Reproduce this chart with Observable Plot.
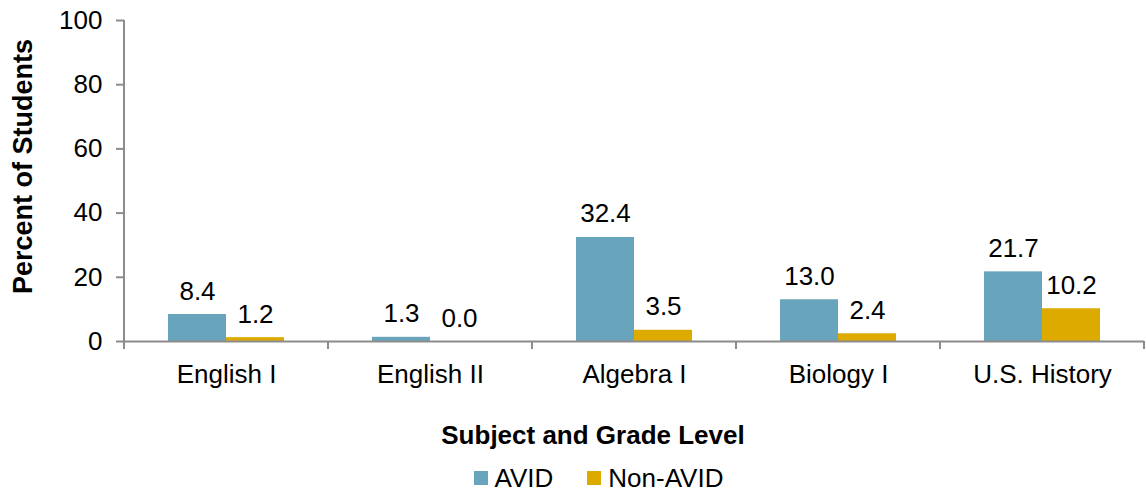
<!DOCTYPE html>
<html>
<head>
<meta charset="utf-8">
<script src="https://cdn.jsdelivr.net/npm/d3@7"></script>
<script src="https://cdn.jsdelivr.net/npm/@observablehq/plot@0.6"></script>
<style>
  html, body { margin: 0; padding: 0; background: #fff; }
  body { font-family: "Liberation Sans", Arial, sans-serif; color: #000; width: 1146px; overflow: hidden; }
  #chart svg { display: block; }
  #title { font-weight: bold; font-size: 26px; text-align: center; padding-left: 40px; margin-top: 20px; line-height: 30px; }
  #legend { display: flex; justify-content: center; align-items: center; padding-left: 51px; margin-top: 14px; font-size: 26px; line-height: 28px; }
  .item { display: flex; align-items: center; margin: 0 17px; }
  .sw { width: 14px; height: 14px; margin-right: 7px; }
</style>
</head>
<body>
<div id="chart"></div>
<div id="title">Subject and Grade Level</div>
<div id="legend"></div>
<script>
const categories = ["English I", "English II", "Algebra I", "Biology I", "U.S. History"];
const avid = [8.4, 1.3, 32.4, 13.0, 21.7];
const nonAvid = [1.2, 0.0, 3.5, 2.4, 10.2];
const series = ["AVID", "Non-AVID"];
const colors = ["#68A4BB", "#DDAA00"];
const yTicks = [0, 20, 40, 60, 80, 100];
const yLabel = "Percent of Students";

const data = [];
categories.forEach((c, i) => {
  data.push({cat: c, series: series[0], value: avid[i]});
  data.push({cat: c, series: series[1], value: nonAvid[i]});
});

const axisColor = "#8c8c8c";

const chart = Plot.plot({
  width: 1146,
  height: 400,
  marginLeft: 122,
  marginRight: 0,
  marginTop: 20,
  marginBottom: 59,
  style: {fontFamily: "'Liberation Sans', Arial, sans-serif", fontSize: "26px", color: "#000", background: "#fff", overflow: "visible"},
  fx: {domain: categories, padding: 0, label: null, axis: null},
  x: {domain: series, paddingInner: 0, paddingOuter: 0.75, axis: null},
  y: {domain: [0, 100], label: null, axis: null},
  color: {domain: series, range: colors},
  marks: [
    Plot.barY(data, {fx: "cat", x: "series", y: "value", fill: "series"}),
    Plot.ruleY([0], {stroke: axisColor, strokeWidth: 2}),
    Plot.text(data, {fx: "cat", x: "series", y: "value", text: d => d.value.toFixed(1), lineAnchor: "bottom", dy: -15, fontSize: 26, fill: "#000"}),
    Plot.axisY({ticks: yTicks, tickSize: 8, tickPadding: 14, stroke: axisColor, strokeWidth: 2, strokeOpacity: 1, fontSize: 26, label: null}),
    Plot.axisFx({anchor: "bottom", tickSize: 0, tickPadding: 23, fontSize: 26, label: null})
  ]
});

document.getElementById("chart").appendChild(chart);

// axis line and category boundary ticks from the library's scales
const svg = d3.select(chart.tagName.toLowerCase() === "svg" ? chart : chart.querySelector("svg"));
const fx = chart.scale("fx");
const y = chart.scale("y");
const y0 = y.apply(0), y100 = y.apply(100);
const bounds = categories.map(c => fx.apply(c));
bounds.push(fx.apply(categories[categories.length - 1]) + fx.bandwidth);
svg.append("line")
  .attr("x1", bounds[0]).attr("x2", bounds[0])
  .attr("y1", y100).attr("y2", y0)
  .attr("stroke", axisColor).attr("stroke-width", 2);
bounds.forEach(b => {
  svg.append("line")
    .attr("x1", b).attr("x2", b)
    .attr("y1", y0).attr("y2", y0 + 8)
    .attr("stroke", axisColor).attr("stroke-width", 2);
});
svg.append("text")
  .attr("transform", `translate(32,${(y0 + y100) / 2 - 14}) rotate(-90)`)
  .attr("text-anchor", "middle")
  .attr("font-weight", "bold")
  .attr("font-size", 27)
  .attr("fill", "#000")
  .text(yLabel);

const legend = d3.select("#legend");
series.forEach((s, i) => {
  const it = legend.append("div").attr("class", "item");
  it.append("div").attr("class", "sw").style("background", colors[i]);
  it.append("span").text(s);
});
</script>
</body>
</html>
